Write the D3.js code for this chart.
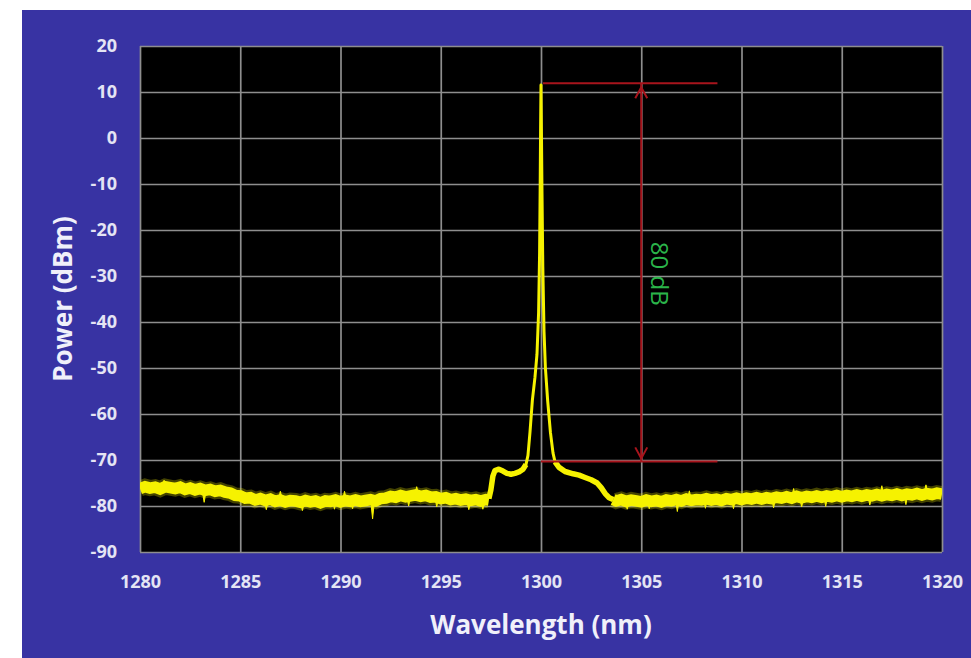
<!DOCTYPE html>
<html><head><meta charset="utf-8">
<script src="https://cdn.jsdelivr.net/npm/d3@7"></script>
<style>body{margin:0;background:#fff}svg{display:block}</style>
</head><body><svg id="chart" width="971" height="658"></svg>
<script>
// ---- data ----
const xTicks = [1280, 1285, 1290, 1295, 1300, 1305, 1310, 1315, 1320];
const yTicks = [20, 10, 0, -10, -20, -30, -40, -50, -60, -70, -80, -90];

const floorLeftWavelength = [1280,1280.25,1280.5,1280.75,1281,1281.25,1281.5,1281.75,1282,1282.25,1282.5,1282.75,1283,1283.25,1283.5,1283.75,1284,1284.25,1284.5,1284.75,1285,1285.25,1285.5,1285.75,1286,1286.25,1286.5,1286.75,1287,1287.25,1287.5,1287.75,1288,1288.25,1288.5,1288.75,1289,1289.25,1289.5,1289.75,1290,1290.25,1290.5,1290.75,1291,1291.25,1291.5,1291.75,1292,1292.25,1292.5,1292.75,1293,1293.25,1293.5,1293.75,1294,1294.25,1294.5,1294.75,1295,1295.25,1295.5,1295.75,1296,1296.25,1296.5,1296.75,1297,1297.25,1297.4];
const floorLeftPower = [-76.2,-75.8,-76.1,-75.9,-76.3,-75.8,-76.0,-76.2,-75.9,-76.4,-76.1,-76.5,-76.2,-76.6,-76.4,-76.8,-76.6,-77.0,-77.2,-77.7,-77.8,-78.3,-78.2,-78.7,-78.4,-78.8,-78.5,-79.0,-78.7,-79.1,-78.8,-78.9,-79.2,-78.8,-79.1,-78.9,-79.3,-78.9,-79.0,-78.7,-79.1,-78.8,-79.0,-78.7,-79.0,-78.8,-78.6,-78.9,-78.4,-78.3,-77.9,-78.1,-77.7,-78.0,-77.8,-77.6,-77.9,-77.7,-78.1,-78.0,-78.4,-78.2,-78.6,-78.4,-78.7,-78.5,-78.8,-78.6,-78.9,-78.6,-78.7];

const coreWavelength = [1297.4,1297.5,1297.6,1297.7,1297.9,1298.1,1298.3,1298.5,1298.7,1298.9,1299.1,1299.25,1299.35,1299.45,1299.57,1299.7,1299.8,1299.88,1299.93,1299.96,1299.98,1300.0,1300.02,1300.05,1300.09,1300.15,1300.22,1300.33,1300.47,1300.6,1300.7,1300.9,1301.2,1301.6,1301.9,1302.2,1302.5,1302.8,1303.0,1303.2,1303.4,1303.6];
const corePower = [-78.4,-76.5,-73.5,-72.3,-72.0,-72.4,-72.9,-73.1,-72.9,-72.6,-72.0,-71.0,-69.0,-64,-57,-52,-47,-38,-25,-10,2,11.5,2,-12,-28,-42,-50,-57,-64,-68.5,-70.4,-71.6,-72.5,-73.0,-73.3,-73.8,-74.3,-75.0,-76.0,-77.3,-78.2,-78.6];

const floorRightWavelength = [1303.6,1303.75,1304,1304.25,1304.5,1304.75,1305,1305.25,1305.5,1305.75,1306,1306.25,1306.5,1306.75,1307,1307.25,1307.5,1307.75,1308,1308.25,1308.5,1308.75,1309,1309.25,1309.5,1309.75,1310,1310.25,1310.5,1310.75,1311,1311.25,1311.5,1311.75,1312,1312.25,1312.5,1312.75,1313,1313.25,1313.5,1313.75,1314,1314.25,1314.5,1314.75,1315,1315.25,1315.5,1315.75,1316,1316.25,1316.5,1316.75,1317,1317.25,1317.5,1317.75,1318,1318.25,1318.5,1318.75,1319,1319.25,1319.5,1319.75,1320];
const floorRightPower = [-78.6,-78.9,-78.6,-79.0,-78.7,-78.9,-79.1,-78.7,-79.0,-78.8,-79.1,-78.7,-78.9,-78.6,-78.9,-78.5,-78.8,-78.6,-78.7,-78.4,-78.7,-78.5,-78.8,-78.4,-78.6,-78.3,-78.6,-78.3,-78.5,-78.2,-78.5,-78.2,-78.4,-78.1,-78.3,-78.0,-78.3,-77.9,-78.2,-77.9,-78.1,-77.8,-78.1,-77.8,-78.0,-77.7,-78.0,-77.7,-77.9,-77.6,-77.9,-77.6,-77.8,-77.5,-77.8,-77.5,-77.7,-77.4,-77.7,-77.4,-77.6,-77.3,-77.6,-77.3,-77.5,-77.2,-77.4];

// noise spikes: wavelength and tip power
const spikeWavelength = [1283.2,1286.3,1288.1,1289.7,1290.6,1291.6,1293.4,1294.8,1296.4,1297.1,1304.3,1305.4,1306.8,1308.2,1309.6,1311.6,1313.0,1314.2,1316.4,1318.2,1281.2,1287.0,1290.2,1293.8,1307.4,1312.6,1317.0,1319.2];
const spikePower = [-79.2,-80.8,-81.0,-80.7,-80.6,-82.8,-80.0,-80.2,-80.8,-80.7,-80.7,-80.6,-81.2,-80.5,-80.6,-80.4,-80.2,-80.1,-79.8,-79.7,-74.4,-76.8,-76.8,-75.8,-76.7,-76.2,-75.6,-75.4];

const peakLevel = 11.9;       // top red marker (dBm)
const floorLevel = -70.3;     // bottom red marker (dBm)
const markerStart = 1300.0;   // nm
const markerEnd = 1308.8;     // nm
const arrowAt = 1305;         // nm
const annotationText = "80 dB";
const xTitle = "Wavelength (nm)";
const yTitle = "Power (dBm)";

// ---- drawing ----
const W = 971, H = 658;
const m = {l: 140, t: 46, r: 942, b: 552};
const svg = d3.select("#chart");
svg.append("rect").attr("x", 22).attr("y", 10).attr("width", W - 22).attr("height", H - 10).attr("fill", "#3833a3");
svg.append("rect").attr("x", m.l).attr("y", m.t).attr("width", m.r - m.l).attr("height", m.b - m.t).attr("fill", "#000");

const x = d3.scaleLinear().domain([1280, 1320]).range([m.l, m.r]);
const y = d3.scaleLinear().domain([-90, 20]).range([m.b, m.t]);

const font = "'Open Sans', sans-serif";
const gx = svg.append("g").attr("transform", `translate(0,${m.b})`)
  .call(d3.axisBottom(x).tickValues(xTicks).tickSize(-(m.b - m.t)).tickPadding(23).tickFormat(d => String(d)));
const gy = svg.append("g").attr("transform", `translate(${m.l},0)`)
  .call(d3.axisLeft(y).tickValues(yTicks).tickSize(-(m.r - m.l)).tickPadding(23).tickFormat(d => String(d)));
[gx, gy].forEach(g => {
  g.select(".domain").remove();
  g.selectAll(".tick line").attr("stroke", "#8e8e8e").attr("stroke-width", 1.7);
  g.selectAll(".tick text").attr("fill", "#e4e4f4").style("font-family", font)
    .style("font-size", "18px").style("font-weight", "700");
});

svg.append("clipPath").attr("id", "clip").append("rect")
  .attr("x", m.l).attr("y", m.t).attr("width", m.r - m.l).attr("height", m.b - m.t);
const plot = svg.append("g").attr("clip-path", "url(#clip)");

const line = d3.line().x(d => x(d[0])).y(d => y(d[1]));
const zip = (a, b) => a.map((v, i) => [v, b[i]]);
const floorL = zip(floorLeftWavelength, floorLeftPower);
const floorR = zip(floorRightWavelength, floorRightPower);
const core = zip(coreWavelength, corePower);
const floorAll = floorL.concat(floorR);
const yellow = "#f6f200";

// noise floor bands (fuzzy edge + core)
[floorL, floorR].forEach(seg => {
  plot.append("path").attr("d", line(seg)).attr("fill", "none").attr("stroke", yellow)
    .attr("stroke-width", 16).attr("stroke-opacity", 0.28);
  plot.append("path").attr("d", line(seg)).attr("fill", "none").attr("stroke", yellow)
    .attr("stroke-width", 11.5);
});
// spikes from the band centre to the tip
const baseAt = w => floorAll.reduce((a, b) => Math.abs(b[0] - w) < Math.abs(a[0] - w) ? b : a)[1];
plot.selectAll(".spike").data(zip(spikeWavelength, spikePower)).enter().append("path")
  .attr("d", d => {
    const bx = x(d[0]), by = y(baseAt(d[0])), ty = y(d[1]);
    return `M${bx - 2},${by}L${bx},${ty}L${bx + 2},${by}Z`;
  })
  .attr("fill", yellow).attr("stroke", yellow).attr("stroke-width", 1);

// shoulders thicker
const shoulders = [core.filter(d => d[0] <= 1299.3), core.filter(d => d[0] >= 1300.7)];
shoulders.forEach(seg => {
  plot.append("path").attr("d", line(seg)).attr("fill", "none").attr("stroke", yellow)
    .attr("stroke-width", 5.5).attr("stroke-linejoin", "round");
});
plot.append("path").attr("d", line(core)).attr("fill", "none").attr("stroke", yellow)
  .attr("stroke-width", 3).attr("stroke-linejoin", "round");

// red annotation
const red = "#a8141c";
const ann = svg.append("g");
[[markerStart + 0.1, peakLevel], [markerStart, floorLevel]].forEach(([s, v]) => {
  ann.append("line").attr("x1", x(s)).attr("x2", x(markerEnd)).attr("y1", y(v)).attr("y2", y(v))
    .attr("stroke", red).attr("stroke-width", 2);
});
const ax = x(arrowAt);
ann.append("line").attr("x1", ax).attr("x2", ax).attr("y1", y(peakLevel)).attr("y2", y(floorLevel))
  .attr("stroke", red).attr("stroke-width", 2);
const tTop = y(peakLevel) + 4, tBot = y(floorLevel) - 3;
ann.append("path").attr("d", `M${ax - 6},${tTop + 11}L${ax},${tTop}L${ax + 6},${tTop + 11}`)
  .attr("fill", "none").attr("stroke", red).attr("stroke-width", 2);
ann.append("path").attr("d", `M${ax - 6},${tBot - 11}L${ax},${tBot}L${ax + 6},${tBot - 11}`)
  .attr("fill", "none").attr("stroke", red).attr("stroke-width", 2);

svg.append("text").attr("transform", `translate(${x(1305.95)},${y(-29.5)}) rotate(90)`)
  .attr("text-anchor", "middle").attr("dominant-baseline", "central")
  .attr("fill", "#2bb44a").style("font-family", font).style("font-size", "24px")
  .text(annotationText);

// titles
svg.append("text").attr("x", (m.l + m.r) / 2).attr("y", 634).attr("text-anchor", "middle")
  .attr("fill", "#f0f0fa").style("font-family", font).style("font-size", "26px").style("font-weight", "700")
  .text(xTitle);
svg.append("text").attr("transform", `translate(72,${(m.t + m.b) / 2}) rotate(-90)`).attr("text-anchor", "middle")
  .attr("fill", "#f0f0fa").style("font-family", font).style("font-size", "26px").style("font-weight", "700")
  .text(yTitle);
</script></body></html>
